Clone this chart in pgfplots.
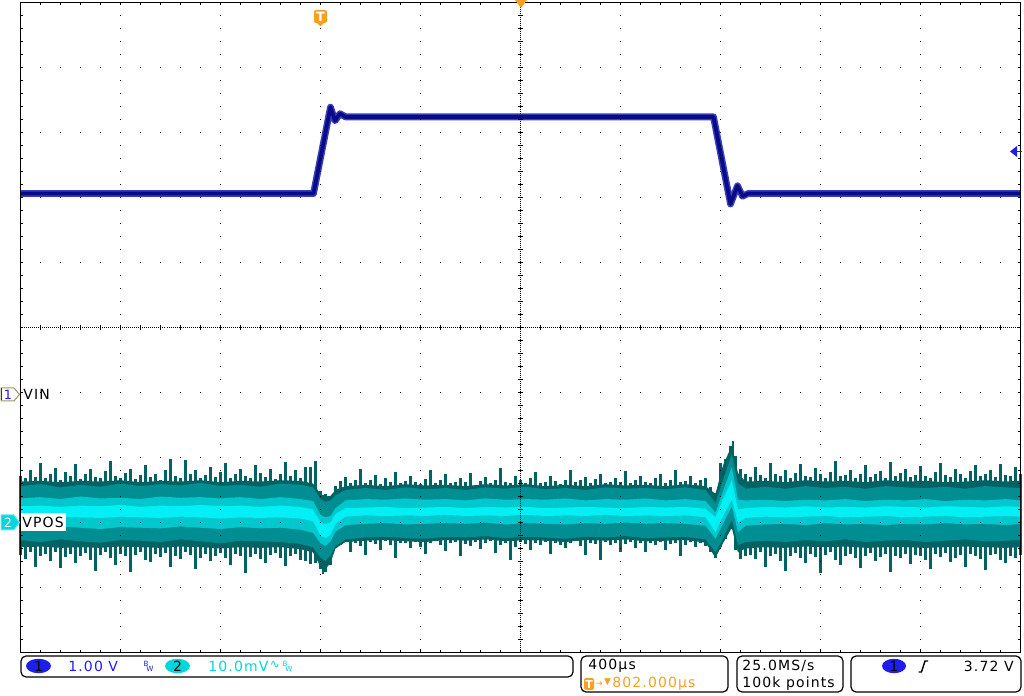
\documentclass[border=0pt]{standalone}
\usepackage{fontspec}
\setmainfont{DejaVu Sans}
\newfontfamily\tek[LetterSpace=8]{DejaVu Sans}
\usepackage{pgfplots}
\usepackage{pgfplotstable}
\pgfplotsset{compat=1.18}
\usepgfplotslibrary{fillbetween}

\definecolor{tkdark}{RGB}{0,98,98}
\definecolor{tkmid}{RGB}{0,142,147}
\definecolor{tkbright}{RGB}{0,200,205}
\definecolor{tkcore}{RGB}{0,240,245}
\definecolor{chonelight}{RGB}{55,65,185}
\definecolor{chonedark}{RGB}{10,10,135}
\definecolor{tekblue}{RGB}{30,30,235}
\definecolor{tekcyan}{RGB}{0,215,220}
\definecolor{tekorange}{RGB}{247,160,30}
\definecolor{mrkline}{RGB}{160,150,90}

% CH1 (VIN), time in us from trigger, volts
\pgfplotstableread{
t v
-1200 3.06
-28 3.06
40 4.39
58 4.18
78 4.29
100 4.24
1572 4.24
1640 2.90
1668 3.18
1688 3.02
1710 3.06
2800 3.06
}\vin

% CH2 (VPOS) noise peaks, mV
\pgfplotstableread{
t hi lo
-1200 7.2 -5.0
-1180 6.8 -5.6
-1160 8.1 -4.6
-1140 7.0 -6.8
-1120 9.2 -5.2
-1100 6.9 -4.8
-1080 7.4 -5.9
-1060 8.4 -4.5
-1040 6.6 -7.0
-1020 7.8 -5.3
-1000 7.1 -4.9
-980 9.0 -6.2
-960 6.7 -5.1
-940 7.5 -4.7
-920 8.2 -5.8
-900 7.0 -7.4
-880 6.8 -5.0
-860 7.9 -4.6
-840 9.4 -5.5
-820 7.2 -6.5
-800 6.9 -4.8
-780 7.6 -5.2
-760 8.3 -7.6
-740 6.7 -5.0
-720 7.3 -4.5
-700 8.8 -5.7
-680 7.0 -6.1
-660 7.4 -4.9
-640 6.6 -5.3
-620 8.0 -4.7
-600 9.8 -6.9
-580 7.1 -5.1
-560 6.9 -5.6
-540 9.6 -4.6
-520 7.5 -5.0
-500 8.1 -7.2
-480 6.8 -5.4
-460 7.3 -4.8
-440 8.6 -6.0
-420 7.0 -5.2
-400 7.7 -4.7
-380 9.1 -5.5
-360 6.8 -6.6
-340 7.4 -4.9
-320 8.3 -5.1
-300 7.1 -7.8
-280 6.9 -5.3
-260 8.9 -4.8
-240 7.6 -5.6
-220 7.0 -6.3
-200 8.2 -5.0
-180 6.7 -4.7
-160 7.5 -5.4
-140 9.3 -6.7
-120 7.2 -5.2
-100 8.0 -4.9
-80 6.9 -5.8
-60 8.5 -6.0
-40 8.5 -6.4
-20 9.5 -6.2
0 4.9 -7.2
10 4.2 -7.9
20 4.4 -7.6
40 3.8 -6.5
60 5.6 -4.0
80 6.4 -3.4
100 7.0 -2.9
120 6.1 -4.6
140 6.6 -3.1
160 8.2 -3.6
180 6.0 -5.0
200 6.5 -3.0
220 7.3 -3.3
240 5.9 -4.2
260 6.8 -2.9
280 6.2 -3.5
300 7.8 -5.5
320 6.0 -3.1
340 6.4 -3.2
360 7.1 -4.0
380 6.3 -3.0
400 5.9 -3.7
420 6.7 -4.8
440 8.0 -3.1
460 6.1 -2.9
480 6.5 -3.4
500 7.4 -4.4
520 6.0 -3.2
540 6.3 -3.0
560 6.9 -5.2
580 6.2 -3.3
600 7.6 -3.6
620 5.8 -3.0
640 6.4 -4.1
660 7.0 -3.2
680 6.1 -2.9
700 6.6 -4.7
720 8.4 -3.4
740 6.2 -3.1
760 6.0 -5.8
780 7.2 -3.8
800 6.5 -3.0
820 6.1 -3.3
840 6.8 -4.3
860 7.7 -3.1
880 6.0 -3.5
900 6.3 -3.0
920 7.1 -4.9
940 6.4 -3.2
960 5.9 -3.4
980 6.6 -4.0
1000 8.1 -3.1
1020 6.2 -2.9
1040 6.5 -3.6
1060 7.0 -5.0
1080 6.0 -3.2
1100 6.7 -3.3
1120 7.5 -5.8
1140 6.1 -3.0
1160 6.3 -3.4
1180 6.9 -3.1
1200 6.2 -4.5
1220 7.9 -3.3
1240 6.0 -3.0
1260 6.5 -3.9
1280 7.2 -3.2
1300 6.3 -4.6
1320 6.1 -3.1
1340 6.8 -3.5
1360 7.4 -3.0
1380 6.0 -4.2
1400 6.6 -3.3
1420 8.0 -3.1
1440 6.2 -5.1
1460 6.4 -3.4
1480 7.1 -3.0
1500 6.0 -3.8
1520 6.5 -3.2
1540 6.9 -3.6
1560 5.5 -4.5
1580 4.6 -5.5
1600 9.1 -3.8
1620 9.8 -2.6
1640 11.8 -1.0
1650 12.6 -0.6
1660 10.2 -4.3
1680 8.3 -5.6
1700 7.4 -5.2
1720 7.0 -5.0
1740 8.6 -5.6
1760 7.3 -4.6
1780 6.9 -6.9
1800 9.2 -5.2
1820 7.5 -4.8
1840 7.1 -5.9
1860 8.0 -7.4
1880 6.8 -5.1
1900 7.6 -4.7
1920 9.0 -5.5
1940 7.2 -6.3
1960 7.0 -4.9
1980 8.4 -5.3
2000 7.4 -7.8
2020 6.9 -5.0
2040 7.8 -4.6
2060 9.5 -5.7
2080 7.1 -6.6
2100 7.3 -5.1
2120 8.1 -4.8
2140 6.8 -5.4
2160 7.5 -7.0
2180 8.8 -5.2
2200 7.0 -4.7
2220 7.4 -6.0
2240 7.9 -5.3
2260 6.9 -4.9
2280 9.3 -7.6
2300 7.2 -5.1
2320 7.6 -5.5
2340 8.2 -4.8
2360 7.0 -6.4
2380 7.3 -5.0
2400 8.7 -5.2
2420 7.1 -5.8
2440 6.9 -7.2
2460 7.7 -4.9
2480 9.1 -5.3
2500 7.3 -4.7
2520 7.0 -6.1
2540 8.3 -5.4
2560 7.5 -5.0
2580 6.8 -6.8
2600 7.9 -4.8
2620 8.9 -5.2
2640 7.2 -5.6
2660 7.4 -7.3
2680 8.0 -5.0
2700 7.0 -4.9
2720 9.0 -5.7
2740 7.3 -6.2
2760 7.1 -5.1
2780 8.5 -5.4
2800 7.4 -5.0
}\vposouter

% CH2 (VPOS) dense band and brighter bands, mV
\pgfplotstableread{
t ohi olo mhi mlo chi clo bhi blo
-1200 6.3 -3.8 5.6 -2.7 3.7 -0.7 2.5 0.8
-1120 6.4 -3.7 5.9 -3.0 3.9 -0.9 2.6 0.7
-1040 6.2 -3.9 5.4 -2.6 3.6 -0.6 2.4 0.9
-960 6.4 -3.8 5.8 -2.9 4.0 -0.8 2.6 0.8
-880 6.3 -3.9 5.5 -3.1 3.7 -1.0 2.5 0.7
-800 6.5 -3.7 6.0 -2.7 3.8 -0.7 2.7 0.9
-720 6.2 -3.8 5.6 -2.8 3.6 -0.8 2.4 0.8
-640 6.4 -3.9 5.9 -3.0 4.0 -0.9 2.6 0.7
-560 6.3 -3.7 5.7 -2.6 3.8 -0.6 2.5 0.9
-480 6.5 -3.8 6.1 -2.9 3.9 -0.8 2.7 0.8
-400 6.2 -4.0 5.6 -3.2 3.7 -1.0 2.5 0.6
-320 6.4 -3.8 5.8 -2.8 3.9 -0.7 2.6 0.8
-240 6.3 -3.9 5.5 -2.9 3.6 -0.9 2.4 0.7
-160 6.5 -3.8 6.0 -3.0 3.9 -0.8 2.6 0.8
-80 6.4 -4.1 5.8 -3.3 3.6 -1.1 2.4 0.6
-30 6.0 -4.6 5.4 -3.8 3.3 -1.6 2.0 0.2
0 4.4 -6.8 3.6 -5.4 1.2 -3.2 0.0 -2.0
20 4.0 -7.2 3.2 -5.9 0.8 -3.6 -0.3 -2.4
40 4.1 -6.2 3.4 -5.0 1.0 -2.9 0.0 -1.9
60 5.0 -4.0 4.2 -3.6 2.2 -1.4 1.3 -0.2
100 5.6 -3.0 5.0 -2.6 3.4 -0.4 2.2 0.9
180 5.8 -2.8 5.3 -2.3 3.6 -0.2 2.3 1.1
260 5.6 -2.7 5.0 -2.2 3.5 -0.1 2.4 1.0
340 5.9 -2.9 5.4 -2.4 3.7 -0.3 2.2 1.1
420 5.7 -3.0 5.1 -2.5 3.5 -0.2 2.3 1.0
500 5.8 -2.7 5.3 -2.2 3.6 -0.1 2.4 1.2
580 5.6 -2.8 5.0 -2.3 3.4 -0.2 2.2 1.0
660 5.9 -2.6 5.4 -2.1 3.7 0.0 2.4 1.1
740 5.7 -2.9 5.2 -2.4 3.5 -0.3 2.3 1.0
820 5.9 -2.7 5.5 -2.2 3.6 -0.1 2.4 1.2
900 5.6 -2.8 5.1 -2.3 3.5 -0.2 2.2 1.0
980 5.8 -3.0 5.3 -2.5 3.7 -0.3 2.3 1.1
1060 5.6 -2.7 5.0 -2.2 3.4 -0.1 2.4 1.0
1140 5.9 -2.8 5.4 -2.3 3.6 -0.2 2.3 1.2
1220 5.7 -2.6 5.2 -2.1 3.5 0.0 2.2 1.0
1300 5.8 -2.9 5.3 -2.4 3.7 -0.2 2.4 1.1
1380 5.6 -2.8 5.1 -2.3 3.4 -0.1 2.3 1.0
1460 5.9 -2.7 5.4 -2.2 3.6 -0.2 2.4 1.1
1540 5.6 -3.1 5.0 -2.6 3.3 -0.5 2.1 0.8
1580 4.4 -5.4 3.0 -4.5 1.5 -2.5 0.8 -1.5
1610 8.8 -3.2 6.5 -2.5 4.8 -0.2 3.6 1.0
1645 11.8 -0.8 10.5 0.5 8.5 2.5 6.5 3.5
1670 7.6 -4.6 6.0 -3.5 3.5 -1.5 2.0 0.0
1700 6.3 -4.0 5.2 -3.0 3.4 -0.5 2.2 0.7
1780 6.4 -3.8 5.5 -2.8 3.5 -0.3 2.4 0.9
1860 6.2 -3.9 5.2 -3.0 3.3 -0.2 2.3 0.8
1940 6.5 -3.7 5.6 -2.7 3.5 -0.4 2.5 0.9
2020 6.3 -3.8 5.3 -2.9 3.4 -0.1 2.3 1.0
2100 6.4 -3.7 5.5 -2.6 3.6 -0.3 2.4 0.8
2180 6.2 -3.9 5.2 -3.0 3.3 -0.2 2.3 0.9
2260 6.5 -3.8 5.6 -2.8 3.5 -0.4 2.5 1.0
2340 6.3 -3.8 5.4 -2.7 3.4 -0.2 2.4 0.8
2420 6.4 -3.9 5.3 -3.0 3.6 -0.3 2.3 0.9
2500 6.2 -3.8 5.5 -2.8 3.3 -0.1 2.5 1.0
2580 6.3 -3.7 5.2 -2.6 3.5 -0.3 2.4 0.8
2660 6.5 -3.8 5.6 -2.9 3.4 -0.2 2.3 0.9
2740 6.3 -3.9 5.4 -2.8 3.6 -0.4 2.5 1.0
2800 6.4 -3.8 5.3 -2.7 3.4 -0.2 2.4 0.9
}\vposinner

\pgfplotsset{screen/.style={scale only axis, width=500pt, height=325pt,
    at={(10.25pt,21.75pt)}, anchor=south west}}

\begin{document}
\begin{tikzpicture}

% channel 2: 10 mV/div, ground 8 div from top
\begin{axis}[screen, hide axis, xmin=-1200, xmax=2800, ymin=-20, ymax=80]
  \addplot[ycomb, tkdark, line width=1.1pt, mark=none, on layer=pre main] table[x=t,y=hi]{\vposouter};
  \addplot[ycomb, tkdark, line width=1.1pt, mark=none, on layer=pre main] table[x=t,y=lo]{\vposouter};
  \addplot[draw=none, name path=ohi] table[x=t,y=ohi]{\vposinner};
  \addplot[draw=none, name path=olo] table[x=t,y=olo]{\vposinner};
  \addplot[fill=tkdark, draw=none] fill between[of=ohi and olo];
  \addplot[draw=none, name path=mhi] table[x=t,y=mhi]{\vposinner};
  \addplot[draw=none, name path=mlo] table[x=t,y=mlo]{\vposinner};
  \addplot[fill=tkmid, draw=none] fill between[of=mhi and mlo];
  \addplot[draw=none, name path=chi] table[x=t,y=chi]{\vposinner};
  \addplot[draw=none, name path=clo] table[x=t,y=clo]{\vposinner};
  \addplot[fill=tkbright, draw=none] fill between[of=chi and clo];
  \addplot[draw=none, name path=bhi] table[x=t,y=bhi]{\vposinner};
  \addplot[draw=none, name path=blo] table[x=t,y=blo]{\vposinner};
  \addplot[fill=tkcore, draw=none] fill between[of=bhi and blo];
\end{axis}

% channel 1: 1 V/div
\begin{axis}[screen, hide axis, xmin=-1200, xmax=2800, ymin=-4, ymax=6]
  \addplot[chonelight, line width=3.4pt, line join=round] table[x=t,y=v]{\vin};
  \addplot[chonedark, line width=1.9pt, line join=round] table[x=t,y=v]{\vin};
\end{axis}

% graticule, 10 x 10 divisions
\begin{axis}[screen, xmin=0, xmax=10, ymin=0, ymax=10,
    xtick={0,...,10}, ytick={0,...,10}, xticklabels={}, yticklabels={},
    minor x tick num=4, minor y tick num=4, tick align=inside,
    major tick length=1.5pt, minor tick length=1.2pt,
    tick style={black, line width=0.5pt},
    axis line style={black, line width=0.6pt},
    xmajorgrids, ymajorgrids,
    major x grid style={black, line width=0.5pt, dash pattern=on 0.5pt off 6pt, dash phase=0.25pt},
    major y grid style={black, line width=0.5pt, dash pattern=on 0.5pt off 9.5pt, dash phase=0.25pt}]
  \draw[black, line width=0.5pt, dash pattern=on 0.5pt off 0.5pt] (axis cs:0,5) -- (axis cs:10,5);
  \draw[black, line width=0.5pt, dash pattern=on 0.5pt off 0.5pt] (axis cs:5,0) -- (axis cs:5,10);
  \pgfplotsinvokeforeach{1,...,49}{
    \draw[black, line width=0.5pt] (axis cs:{#1/5},4.965) -- (axis cs:{#1/5},5.035);
    \draw[black, line width=0.5pt] (axis cs:4.978,{#1/5}) -- (axis cs:5.022,{#1/5});
  }
\end{axis}

% screen annotations, in pixel units of the 1024 x 696 screen
\begin{scope}[x=0.5pt, y=-0.5pt, shift={(0pt,348pt)},
    every node/.style={inner sep=0pt, font=\tek\fontsize{7}{8}\selectfont}]
  % channel markers
  \filldraw[fill=white, draw=mrkline, line width=0.5pt] (1,388) -- (14,388) -- (19.5,394.5) -- (14,401) -- (1,401) -- cycle;
  \draw[tekblue, line width=0.6pt] (1.5,388.5) -- (1.5,400.5);
  \node[tekblue, font=\tek\fontsize{6.4}{7}\selectfont] at (8,394.5) {1};
  \node[anchor=west] at (23,394.5) {VIN};
  \filldraw[fill=tekcyan, draw=tekcyan!60!white, line width=0.5pt] (1,515) -- (14,515) -- (19.5,522.5) -- (14,530) -- (1,530) -- cycle;
  \node[white, font=\tek\fontsize{6.4}{7}\selectfont] at (8,522.5) {2};
  \fill[white] (21,513) rectangle (66,531);
  \node[anchor=west] at (22,522.5) {VPOS};
  % trigger position, centre marker, trigger level
  \fill[tekorange, rounded corners=1pt] (314,10) rectangle (327,23);
  \fill[tekorange] (317,23) -- (324,23) -- (320.5,26.5) -- cycle;
  \node[white, font=\tek\bfseries\fontsize{6.4}{7}\selectfont] at (320.5,16.5) {T};
  \fill[tekorange] (515,0) -- (527,0) -- (521,8) -- cycle;
  \fill[tekblue] (1010,151.5) -- (1017,146) -- (1017,157) -- cycle;
  \draw[tekblue, line width=0.8pt] (1016,151.5) -- (1022,151.5);
  % readout boxes
  \draw[black, line width=0.6pt, rounded corners=2.5pt] (21,656) rectangle (573,677);
  \draw[black, line width=0.6pt, rounded corners=2.5pt] (581,656) rectangle (728,692);
  \draw[black, line width=0.6pt, rounded corners=2.5pt] (737,656) rectangle (843,692);
  \draw[black, line width=0.6pt, rounded corners=2.5pt] (851,656) rectangle (1021,692);
  \fill[tekblue] (38.5,666) ellipse [x radius=6.25pt, y radius=3.6pt];
  \node at (38.5,666) {1};
  \node[tekblue, anchor=west] at (68,666) {1.00 V};
  \node[tekblue, font=\fontsize{3.6}{4}\selectfont] at (146,664) {B};
  \node[tekblue, font=\fontsize{3.6}{4}\selectfont] at (150,669) {W};
  \fill[tekcyan] (177.5,666) ellipse [x radius=6.25pt, y radius=3.6pt];
  \node at (177.5,666) {2};
  \node[tekcyan, anchor=west] at (208,666) {10.0mV};
  \node[tekcyan, font=\fontsize{6}{7}\selectfont] at (275,665) {∿};
  \node[tekcyan, font=\fontsize{3.6}{4}\selectfont] at (285,664) {B};
  \node[tekcyan, font=\fontsize{3.6}{4}\selectfont] at (289,669) {W};
  \node[anchor=west] at (588,665.5) {400µs};
  \fill[tekorange, rounded corners=0.8pt] (584,678) rectangle (594,690);
  \node[white, font=\tek\bfseries\fontsize{5.5}{6}\selectfont] at (589,684) {T};
  \node[tekorange, font=\fontsize{4.5}{5}\selectfont] at (599,684) {→};
  \node[tekorange, font=\fontsize{4.5}{5}\selectfont] at (607.5,682) {▼};
  \node[tekorange, anchor=west] at (612,684) {802.000µs};
  \node[anchor=west] at (742,665.5) {25.0MS/s};
  \node[anchor=west] at (742,684) {100k points};
  \fill[tekblue] (894,666) ellipse [x radius=6pt, y radius=3.6pt];
  \node at (894,666) {1};
  \draw[black, line width=0.7pt] (918.5,672) -- (921.5,672) -- (925,661) -- (928,661);
  \node[anchor=east] at (1014,666) {3.72 V};
\end{scope}
\pgfresetboundingbox
\path[use as bounding box] (0,0) rectangle (512pt,348pt);
\end{tikzpicture}
\end{document}
